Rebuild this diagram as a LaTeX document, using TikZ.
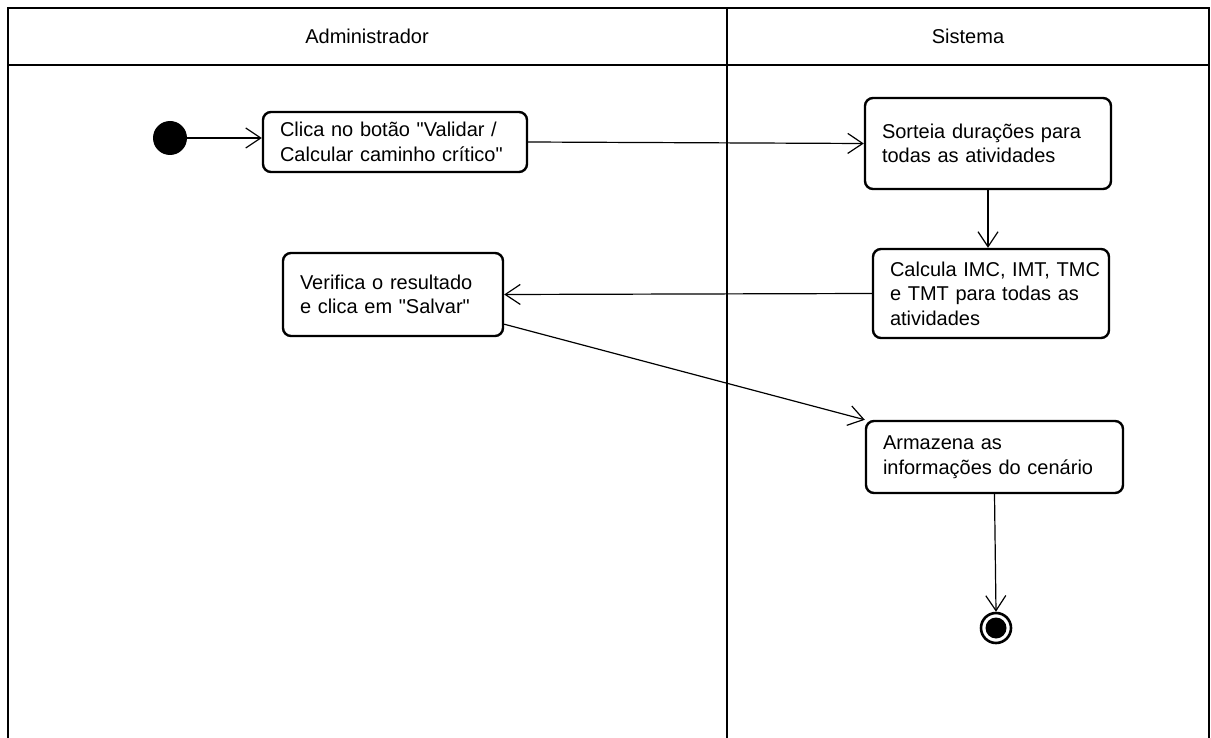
\documentclass[tikz,border=0pt]{standalone}
\usepackage{fontspec}
\setmainfont{Liberation Sans}[Ligatures=TeXOff]
\usetikzlibrary{arrows.meta,calc}

\begin{document}
\begin{tikzpicture}[x=1pt,y=-1pt,
  lane/.style={line width=2.6pt,black},
  action/.style={draw,line width=2.4pt,rounded corners=8pt,align=left,
    inner xsep=17pt,inner ysep=0pt,
    font=\fontsize{20}{24.5}\selectfont},
  flow/.style={line width=1.2pt,-{Straight Barb[length=15pt,width=20pt]}},
  header/.style={font=\fontsize{20}{24.5}\selectfont}
]
\useasboundingbox (0,0) rectangle (1211,738);

% swimlane frame
\coordinate (tl) at (8,8);
\coordinate (tr) at (1209,8);
\coordinate (hl) at (8,65);
\coordinate (hr) at (1209,65);
\coordinate (dt) at (727,8);
\coordinate (db) at (727,738);
\coordinate (bl) at (8,738);
\coordinate (br) at (1209,738);
\draw[lane] (bl) -- (tl) -- (tr) -- (br);
\draw[lane] (hl) -- (hr);
\draw[lane] (dt) -- (db);

\node[header] (hadm) at (367,36.5) {Administrador};
\node[header] (hsys) at (968,36.5) {Sistema};

% start and end points
\node[circle,fill=black,inner sep=0pt,minimum size=34pt] (start) at (170,138) {};
\node[circle,draw,line width=2.6pt,inner sep=0pt,minimum size=30pt] (stop) at (996,628) {};
\node[circle,fill=black,inner sep=0pt,minimum size=21pt] (stopdot) at (stop) {};

% actions
\node[action,text width=230pt,minimum height=60pt] (clica) at (395,142)
  {\mbox{Clica no botão "Validar /}\\\mbox{Calcular caminho crítico"}};
\node[action,text width=212pt,minimum height=91pt] (sorteia) at (988,143.5)
  {\mbox{Sorteia durações para}\\\mbox{todas as atividades}};
\node[action,text width=202pt,minimum height=89pt] (calcula) at (991,293.5)
  {\mbox{Calcula IMC, IMT, TMC}\\\mbox{e TMT para todas as}\\\mbox{atividades}};
\node[action,text width=186pt,minimum height=83pt] (verifica) at (393,294.5)
  {\mbox{Verifica o resultado}\\\mbox{e clica em "Salvar"}};
\node[action,text width=223pt,minimum height=72pt] (armazena) at (994.5,457)
  {\mbox{Armazena as}\\\mbox{informações do cenário}};

% control flow
\draw[flow] (start.east) -- (clica.west |- start);
\draw[flow] (clica.east) -- (sorteia.west);
\draw[flow] (sorteia.south) -- (sorteia.south |- calcula.north);
\draw[flow] (calcula.west) -- (verifica.east);
\draw[flow] ($(verifica.south east)+(0,-13)$) -- (armazena.north west);
\draw[flow] (armazena.south) -- (stop.north);
\end{tikzpicture}
\end{document}
